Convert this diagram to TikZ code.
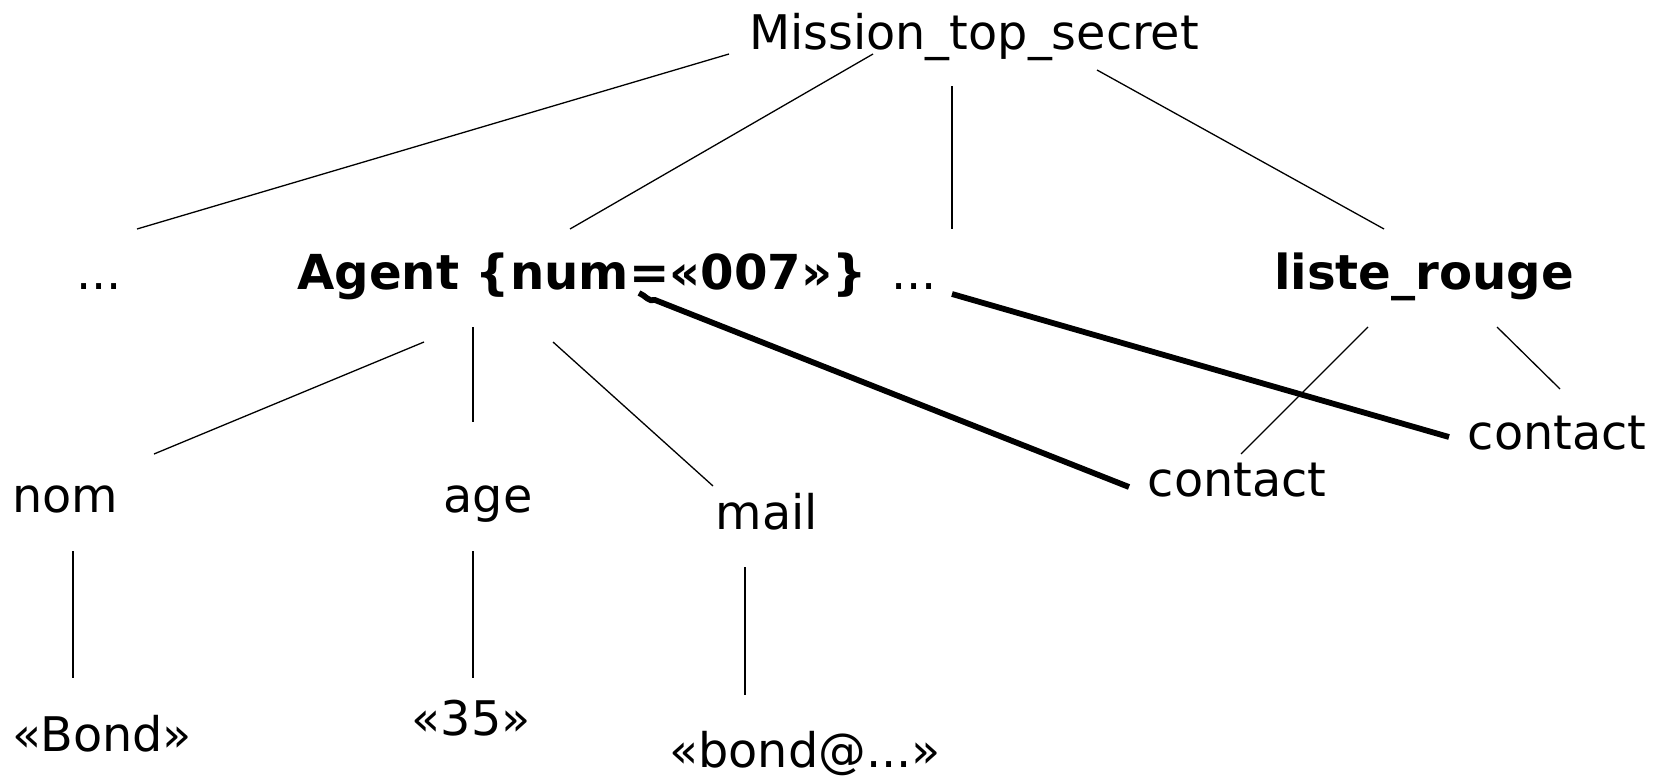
\documentclass[tikz,border=0pt]{standalone}
\usepackage{fontspec}
\setmainfont{DejaVu Sans}
\begin{document}
\begin{tikzpicture}[x=0.5pt,y=-0.5pt,
  lbl/.style={inner sep=0pt,anchor=base,font=\fontsize{23.85}{28}\selectfont},
  blbl/.style={lbl,font=\fontsize{24.1}{28}\selectfont\bfseries},
  link/.style={line width=0.65pt},
  ref/.style={line width=2.9pt}]
\useasboundingbox (0,0) rectangle (1663,776);

% tree labels
\node[lbl]  (mission) at (974,49)  {Mission\_top\_secret};
\node[lbl]  (dotsL)   at (99,289)  {...};
\node[blbl] (agent)   at (582,289) {Agent \{num=«007»\}};
\node[lbl]  (dotsM)   at (914,289) {...};
\node[blbl] (liste)   at (1424,289) {liste\_rouge};
\node[lbl]  (nom)     at (65,512)  {nom};
\node[lbl]  (age)     at (488,512) {age};
\node[lbl]  (mail)    at (767,529) {mail};
\node[lbl]  (contA)   at (1237,496) {contact};
\node[lbl]  (contB)   at (1557,449) {contact};
\node[lbl]  (bond)    at (102,751) {«Bond»};
\node[lbl]  (v35)     at (471,735) {«35»};
\node[lbl]  (mailv)   at (805,767) {«bond@...»};

% connector end points
\coordinate (m1) at (729,54);   \coordinate (d1) at (137,229);
\coordinate (m2) at (873,54);   \coordinate (a1) at (570,229);
\coordinate (m3) at (952,86);   \coordinate (d2) at (952,229);
\coordinate (m4) at (1097,70);  \coordinate (l1) at (1384,229);
\coordinate (a2) at (424,342);  \coordinate (n1) at (154,454);
\coordinate (a3) at (473,327);  \coordinate (g1) at (473,422);
\coordinate (a4) at (553,342);  \coordinate (e1) at (713,486);
\coordinate (n2) at (73,551);   \coordinate (b1) at (73,678);
\coordinate (g2) at (473,551);  \coordinate (v1) at (473,678);
\coordinate (e2) at (745,567);  \coordinate (w1) at (745,695);
\coordinate (l2) at (1368,327); \coordinate (c1) at (1241,454);
\coordinate (l3) at (1497,327); \coordinate (c2) at (1560,389);
\coordinate (d3) at (952,294);  \coordinate (c3) at (1449,437);
\coordinate (c4) at (1129,487); \coordinate (a5) at (655,300);
\coordinate (a6) at (639,293);

% tree edges
\draw[link] (m1) -- (d1);
\draw[link] (m2) -- (a1);
\draw[link] (m3) -- (d2);
\draw[link] (m4) -- (l1);
\draw[link] (a2) -- (n1);
\draw[link] (a3) -- (g1);
\draw[link] (a4) -- (e1);
\draw[link] (n2) -- (b1);
\draw[link] (g2) -- (v1);
\draw[link] (e2) -- (w1);
\draw[link] (l2) -- (c1);
\draw[link] (l3) -- (c2);

% references from the contacts
\draw[ref] (d3) -- (c3);
\draw[ref] (c4) -- (a5) to[out=200,in=-20] (a6);
\end{tikzpicture}
\end{document}
